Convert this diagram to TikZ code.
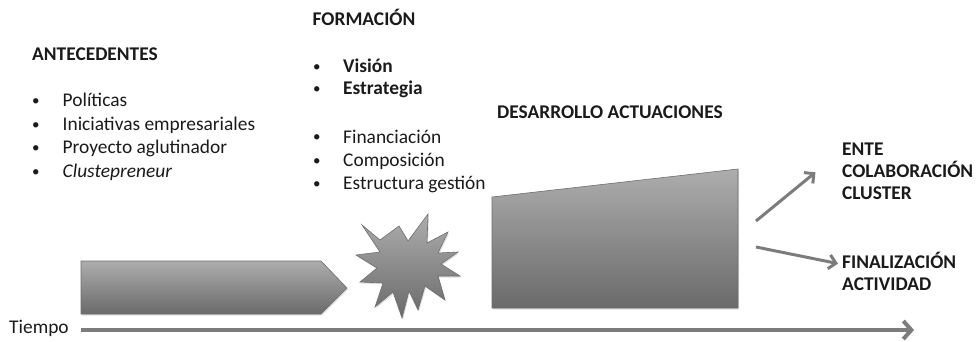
\documentclass[tikz,border=0pt]{standalone}
\usepackage{fontspec}
\setmainfont{Carlito}
\usetikzlibrary{arrows.meta,shadows}
\definecolor{txtc}{HTML}{1A1A1A}
\definecolor{arrc}{HTML}{7C7C7C}
\definecolor{shtop}{HTML}{ADADAD}
\definecolor{shbot}{HTML}{6A6A6A}
\definecolor{edgec}{HTML}{6E6E6E}
\tikzset{
  txt/.style={font=\fontsize{19.4}{23}\selectfont, text=txtc, anchor=base west, inner sep=0pt},
  hdr/.style={txt, font=\fontsize{19.4}{23}\selectfont\bfseries},
  bul/.style={txt, font=\fontsize{15}{18}\selectfont, yshift=1pt},
  blk/.style={top color=shtop, bottom color=shbot, draw=edgec, line width=0.6pt,
     drop shadow={opacity=0.25, shadow xshift=1pt, shadow yshift=-1.5pt}},
  conn/.style={draw=arrc, line width=3pt, -{Straight Barb[length=7pt,width=14pt,line width=3pt]}, shorten >=2pt},
  timeline/.style={draw=arrc, line width=4.5pt, -{Straight Barb[length=8pt,width=18pt,line width=4pt]}}
}
\begin{document}
\begin{tikzpicture}[x=1pt,y=-1pt]
\useasboundingbox (0,0) rectangle (977,342);
% texts
\node[hdr] (ant) at (32,60.5) {ANTECEDENTES};
\node[bul] (ab1) at (32,107) {•};
\node[bul] (ab2) at (32,130.5) {•};
\node[bul] (ab3) at (32,153.5) {•};
\node[bul] (ab4) at (32,177) {•};
\node[txt] (a1) at (62.5,107) {Políticas};
\node[txt] (a2) at (62.5,130.5) {Iniciativas empresariales};
\node[txt] (a3) at (62.5,153.5) {Proyecto aglutinador};
\node[txt,font=\fontsize{19.4}{23}\selectfont\itshape] (a4) at (62.5,177) {Clustepreneur};

\node[hdr] (for) at (312.5,26) {FORMACIÓN};
\node[bul] (fb1) at (313,72.5) {•};
\node[bul] (fb2) at (313,95) {•};
\node[bul] (fb3) at (313,143) {•};
\node[bul] (fb4) at (313,166) {•};
\node[bul] (fb5) at (313,189) {•};
\node[hdr] (f1) at (343,72.5) {Visión};
\node[hdr] (f2) at (343,95) {Estrategia};
\node[txt] (f3) at (343,143) {Financiación};
\node[txt] (f4) at (343,166) {Composición};
\node[txt] (f5) at (343,189) {Estructura gestión};

\node[hdr] (des) at (497,119) {DESARROLLO ACTUACIONES};

\node[hdr] (e1) at (842,155) {ENTE};
\node[hdr] (e2) at (842,177) {COLABORACIÓN};
\node[hdr] (e3) at (842,199) {CLUSTER};
\node[hdr] (n1) at (842,268) {FINALIZACIÓN};
\node[hdr] (n2) at (842,290) {ACTIVIDAD};

\node[txt] (tie) at (9,333) {Tiempo};

% shapes
\path[blk] (81,261) -- (321,261) -- (347,288) -- (321,314) -- (81,314) -- cycle;
\path[blk] (362,225) -- (380,240) -- (399,226) -- (408,241) -- (428,214) -- (427,243)
  -- (448,232) -- (438,253) -- (458,252) -- (441,264) -- (460,276) -- (438,276)
  -- (445,300) -- (425,286) -- (418,310) -- (409,291) -- (402,318) -- (393,292)
  -- (375,307) -- (383,283) -- (360,282) -- (377,268) -- (356,255) -- (380,252) -- cycle;
\path[blk] (492,197) -- (738,169) -- (738,308) -- (492,308) -- cycle;

% connectors
\coordinate (up0) at (756,221);
\coordinate (lo0) at (756,247);
\coordinate (up1) at (817,171);
\coordinate (lo1) at (840,264);
\coordinate (t0) at (81,330);
\coordinate (t1) at (914,330);
\draw[conn] (up0) -- (up1);
\draw[conn] (lo0) -- (lo1);
\draw[timeline] (t0) -- (t1);
\end{tikzpicture}
\end{document}
